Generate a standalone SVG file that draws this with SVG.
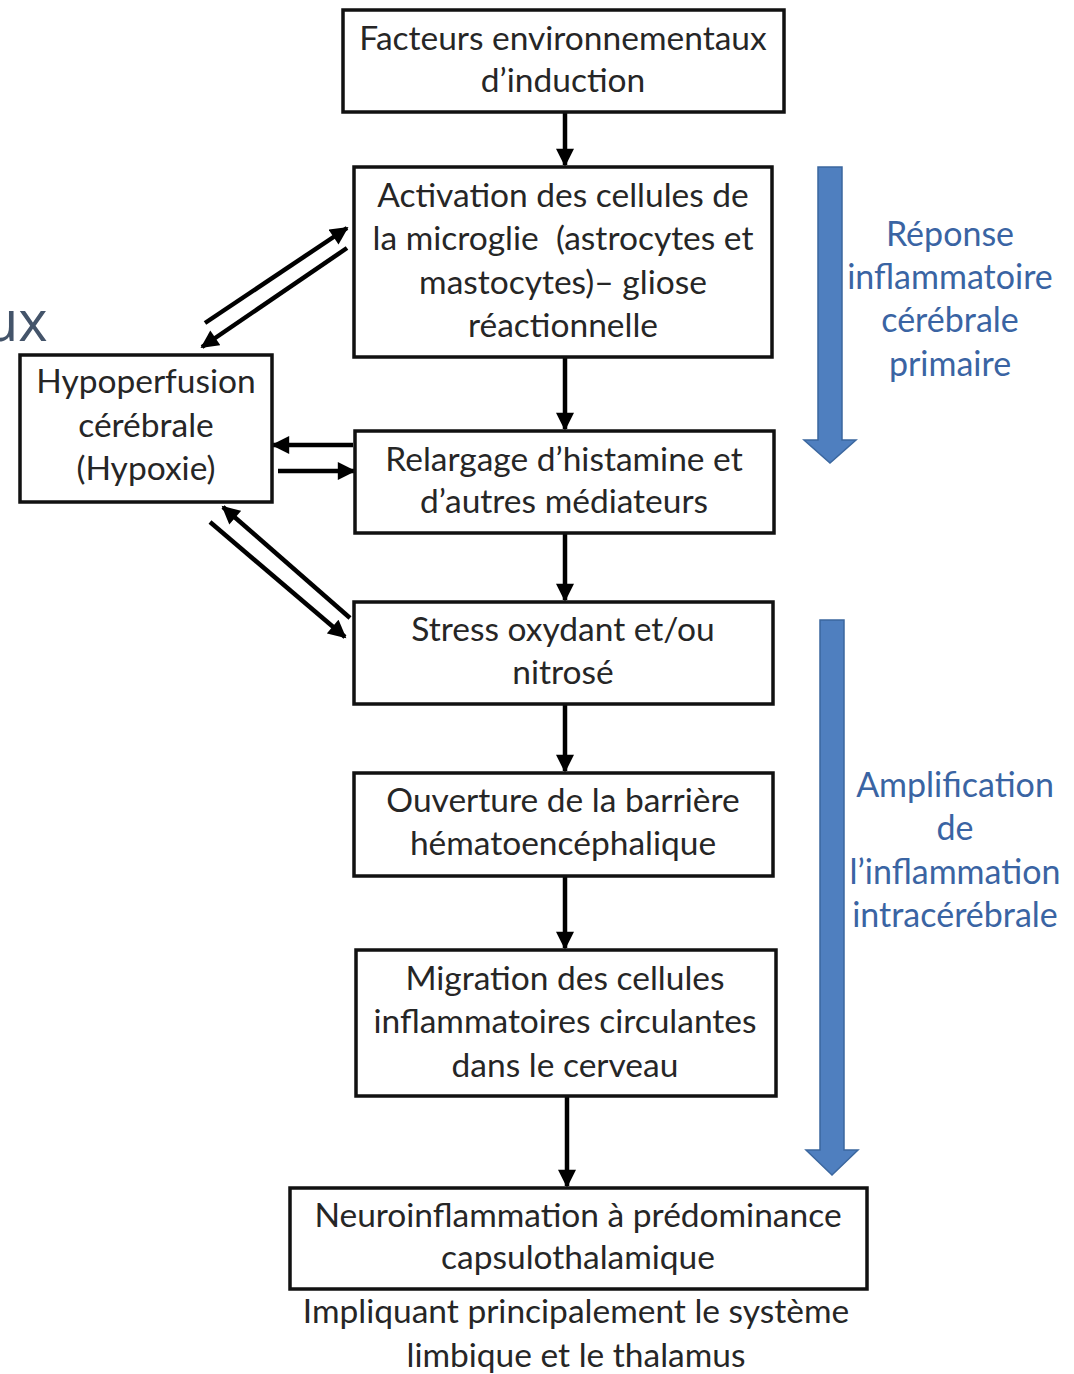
<svg xmlns="http://www.w3.org/2000/svg" width="1074" height="1374" viewBox="0 0 1074 1374">
  <defs>
    <style>
      .box { fill: #ffffff; stroke: #111111; stroke-width: 3.5; }
      .lbl { font-family: Lato, "Open Sans", "Liberation Sans", sans-serif; font-size: 33.5px; fill: #262626; text-anchor: middle; }
      .blue { font-family: Lato, "Open Sans", "Liberation Sans", sans-serif; font-size: 34px; fill: #3a64a3; text-anchor: middle; }
      .link { stroke: #000000; stroke-width: 4.5; fill: none; marker-end: url(#head); }
      .band { fill: #4f7fbf; stroke: #3b679f; stroke-width: 1.5; }
    </style>
    <marker id="head" viewBox="0 0 10 10" refX="9" refY="5" markerWidth="4.2" markerHeight="4" orient="auto" markerUnits="strokeWidth">
      <path d="M0,0 L10,5 L0,10 Z" fill="#000000"/>
    </marker>
  </defs>

  <rect width="1074" height="1374" fill="#ffffff"/>

  <!-- heading fragment running off the left edge -->
  <text x="-16" y="341" font-family="'Open Sans', 'Liberation Sans', sans-serif" font-size="56" fill="#44546a">ux</text>

  <!-- blue phase arrows -->
  <g id="phase-primary">
    <path class="band" d="M818,167 L842,167 L842,440 L856,440 L830,463 L804,440 L818,440 Z"/>
    <text class="blue" x="950" y="246">Réponse</text>
    <text class="blue" x="950" y="289">inflammatoire</text>
    <text class="blue" x="950" y="332">cérébrale</text>
    <text class="blue" x="950" y="376">primaire</text>
  </g>
  <g id="phase-amplification">
    <path class="band" d="M820,620 L844,620 L844,1150 L858,1150 L832,1175 L806,1150 L820,1150 Z"/>
    <text class="blue" x="955" y="797">Amplification</text>
    <text class="blue" x="955" y="840">de</text>
    <text class="blue" x="955" y="884">l’inflammation</text>
    <text class="blue" x="955" y="927">intracérébrale</text>
  </g>

  <!-- connectors -->
  <g id="connectors">
    <line class="link" x1="565" y1="112" x2="565" y2="165"/>
    <line class="link" x1="565" y1="357" x2="565" y2="429"/>
    <line class="link" x1="565" y1="533" x2="565" y2="600"/>
    <line class="link" x1="565" y1="704" x2="565" y2="771"/>
    <line class="link" x1="565" y1="876" x2="565" y2="948"/>
    <line class="link" x1="567" y1="1096" x2="567" y2="1186"/>

    <line class="link" x1="205" y1="323" x2="347" y2="228"/>
    <line class="link" x1="347" y1="248" x2="202" y2="347"/>

    <line class="link" x1="353" y1="445" x2="273" y2="445"/>
    <line class="link" x1="278" y1="471" x2="354" y2="471"/>

    <line class="link" x1="350" y1="618" x2="223" y2="507"/>
    <line class="link" x1="210" y1="522" x2="345" y2="637"/>
  </g>

  <g id="n-facteurs">
    <rect class="box" x="343" y="10" width="441" height="102"/>
    <text class="lbl" x="563" y="50">Facteurs environnementaux</text>
    <text class="lbl" x="563" y="92">d’induction</text>
  </g>

  <g id="n-activation">
    <rect class="box" x="354" y="167" width="418" height="190"/>
    <text class="lbl" x="563" y="207">Activation des cellules de</text>
    <text class="lbl" x="563" y="250" xml:space="preserve">la microglie  (astrocytes et</text>
    <text class="lbl" x="563" y="294">mastocytes)– gliose</text>
    <text class="lbl" x="563" y="337">réactionnelle</text>
  </g>

  <g id="n-hypoperfusion">
    <rect class="box" x="20" y="355" width="252" height="147"/>
    <text class="lbl" x="146" y="393">Hypoperfusion</text>
    <text class="lbl" x="146" y="437">cérébrale</text>
    <text class="lbl" x="146" y="480">(Hypoxie)</text>
  </g>

  <g id="n-relargage">
    <rect class="box" x="355" y="431" width="419" height="102"/>
    <text class="lbl" x="564" y="471">Relargage d’histamine et</text>
    <text class="lbl" x="564" y="513">d’autres médiateurs</text>
  </g>

  <g id="n-stress">
    <rect class="box" x="354" y="602" width="419" height="102"/>
    <text class="lbl" x="563" y="641">Stress oxydant et/ou</text>
    <text class="lbl" x="563" y="684">nitrosé</text>
  </g>

  <g id="n-ouverture">
    <rect class="box" x="354" y="773" width="419" height="103"/>
    <text class="lbl" x="563" y="812">Ouverture de la barrière</text>
    <text class="lbl" x="563" y="855">hématoencéphalique</text>
  </g>

  <g id="n-migration">
    <rect class="box" x="356" y="950" width="420" height="146"/>
    <text class="lbl" x="565" y="990">Migration des cellules</text>
    <text class="lbl" x="565" y="1033">inflammatoires circulantes</text>
    <text class="lbl" x="565" y="1077">dans le cerveau</text>
  </g>

  <g id="n-neuroinflammation">
    <rect class="box" x="290" y="1188" width="577" height="101"/>
    <text class="lbl" x="578" y="1227">Neuroinflammation à prédominance</text>
    <text class="lbl" x="578" y="1269">capsulothalamique</text>
  </g>

  <g id="note">
    <text class="lbl" x="576" y="1323">Impliquant principalement le système</text>
    <text class="lbl" x="576" y="1367">limbique et le thalamus</text>
  </g>
</svg>
